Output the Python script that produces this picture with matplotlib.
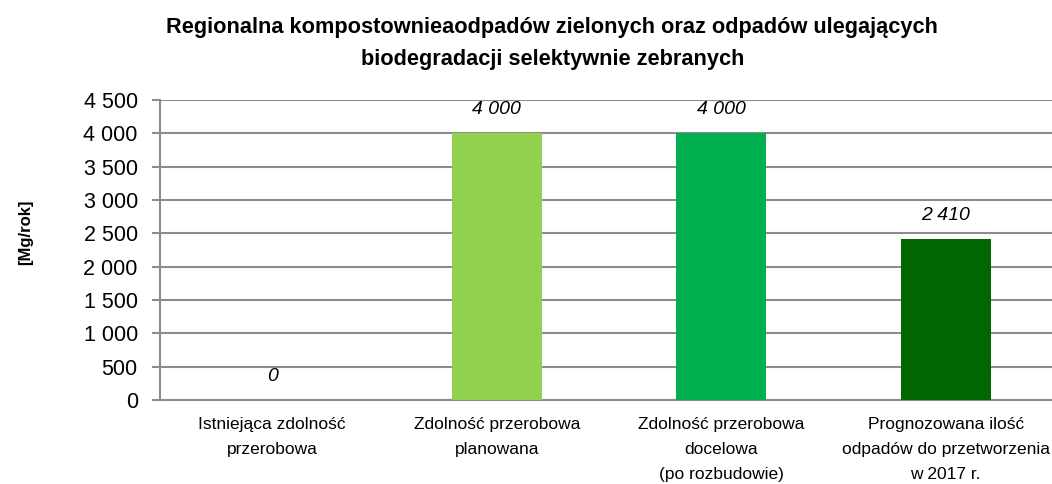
import matplotlib
matplotlib.use("Agg")
from matplotlib import pyplot as plt
from matplotlib.ticker import FuncFormatter

# kompostownia - zdolnosci przerobowe
categories = ["Istniejąca zdolność\nprzerobowa",
              "Zdolność przerobowa\nplanowana",
              "Zdolność przerobowa\ndocelowa\n(po rozbudowie)",
              "Prognozowana ilość\nodpadów do przetworzenia\nw 2017 r."]
values = [0, 4000, 4000, 2410]
colours = ["#92D050", "#92D050", "#00B050", "#006600"]
title = ("Regionalna kompostownieaodpadów zielonych oraz odpadów ulegających\n"
         "biodegradacji selektywnie zebranych")
ylabel = "[Mg/rok]"

plt.rcParams['font.family'] = ['Liberation Sans', 'DejaVu Sans']

fig = plt.figure(figsize=(10.52, 4.84), dpi=100)
ax = fig.add_axes([160/1052., 1-400/484., 898/1052., 300/484.])

x = range(len(values))
ax.bar(x, values, width=0.40, color=colours, zorder=3)

def fmt(v):
    return "{:,}".format(int(v)).replace(",", " ")

for xi, v in zip(x, values):
    ax.annotate(fmt(v), (xi, v), xytext=(0, 11), textcoords='offset points',
                ha='center', va='bottom', fontsize=14, style='italic')

ax.set_xlim(-0.5, 3.5)
ax.set_ylim(0, 4500)
ax.set_yticks(range(0, 4501, 500))
ax.yaxis.set_major_formatter(FuncFormatter(lambda v, p: fmt(v)))
ax.set_xticks(list(x))
ax.set_xticklabels(categories, fontsize=12.5, linespacing=1.85)
ax.tick_params(axis='x', length=0, pad=12)
ax.tick_params(axis='y', length=6, width=1.5, color='#8c8c8c', labelsize=15.5, pad=10)
ax.yaxis.grid(True, color='#8c8c8c', lw=1.5, zorder=0)

for s in ['top', 'right']:
    ax.spines[s].set_visible(False)
ax.spines['left'].set_color('#8c8c8c'); ax.spines['left'].set_linewidth(1.5)
ax.spines['bottom'].set_color('#8c8c8c'); ax.spines['bottom'].set_linewidth(1.5)

fig.text(0.525, 0.965, title, ha='center', va='top', fontsize=15.7, fontweight='bold',
         linespacing=1.7)
fig.text(0.024, 0.519, ylabel, rotation=90, ha='center', va='center',
         fontsize=12, fontweight='bold')

fig.savefig("out.png", dpi=100)
